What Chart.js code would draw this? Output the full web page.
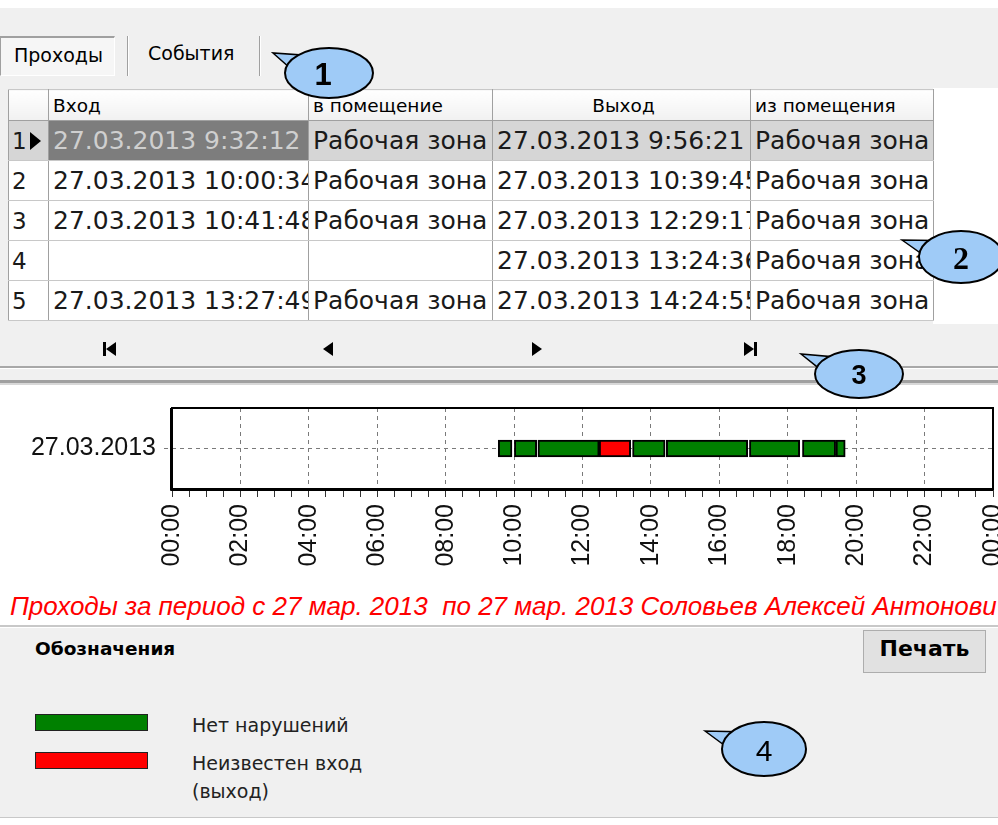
<!DOCTYPE html>
<html><head><meta charset="utf-8">
<script src="https://cdn.jsdelivr.net/npm/chart.js@4/dist/chart.umd.min.js"></script>
<style>
html,body{margin:0;padding:0;width:998px;height:825px;overflow:hidden;background:#fff;position:relative;font-family:"DejaVu Sans",sans-serif;color:#000;}
.a{position:absolute;}
.gray{background:#f0f0f0;}
table.grid{position:absolute;left:8px;top:89px;width:925px;border-collapse:collapse;table-layout:fixed;background:#fff;}
table.grid th{box-sizing:border-box;height:31px;padding:0 0 0 4px;font-weight:normal;font-size:18.5px;text-align:left;background:linear-gradient(#ffffff,#f1f1f1);border-right:1px solid #a0a0a0;border-bottom:1px solid #a0a0a0;border-top:1px solid #c8c8c8;white-space:nowrap;overflow:hidden;}
table.grid td{box-sizing:border-box;height:40px;padding:0 0 0 4px;font-size:25px;white-space:nowrap;overflow:hidden;border-right:1px solid #a0a0a0;border-bottom:1px solid #c8c8c8;color:#1a1a1a;}
table.grid td.num{padding-left:3px;font-size:23px;}
table.grid tr.sel td{background:#d6d6d6;}
table.grid tr.sel td.cur{background:#7d7d7d;color:#cfcfcf;}
table.grid th:first-child,table.grid td:first-child{border-left:1px solid #a0a0a0;}
.tri{position:absolute;width:0;height:0;}
</style></head><body>

<!-- toolbar / upper panel -->
<div class="a gray" style="left:0;top:8px;width:998px;height:378px;"></div>
<div class="a" style="left:933px;top:88px;width:65px;height:236px;background:#fff;"></div>

<div class="a" style="left:0;top:36px;width:115px;height:40px;background:#f6f6f6;border-top:2px solid #a0a0a0;border-left:1px solid #a0a0a0;border-right:1px solid #fff;border-bottom:1px solid #fff;box-sizing:border-box;"></div>
<div class="a" style="left:14px;top:44px;font-size:19px;">Проходы</div>
<div class="a" style="left:127px;top:36px;width:1px;height:40px;background:#a0a0a0;border-right:1px solid #fff;"></div>
<div class="a" style="left:148px;top:42px;font-size:19px;">События</div>
<div class="a" style="left:259px;top:36px;width:1px;height:40px;background:#a0a0a0;border-right:1px solid #fff;"></div>

<table class="grid" id="grid">
<colgroup><col style="width:40px"><col style="width:260px"><col style="width:184px"><col style="width:258px"><col style="width:183px"></colgroup>
<thead><tr><th></th><th id="h0"></th><th id="h1"></th><th id="h2" style="text-align:center"></th><th id="h3"></th></tr></thead>
<tbody id="gbody"></tbody>
</table>

<!-- navigator -->
<svg class="a" style="left:0;top:330px" width="998" height="40">
  <rect x="103" y="12" width="3" height="14" fill="#000"/>
  <polygon points="106,19 116,12 116,26" fill="#000"/>
  <polygon points="323,19 333,12 333,26" fill="#000"/>
  <polygon points="542,19 532,12 532,26" fill="#000"/>
  <polygon points="744,12 754,19 744,26" fill="#000"/>
  <rect x="754" y="12" width="3" height="14" fill="#000"/>
</svg>
<div class="a" style="left:0;top:366px;width:998px;height:2px;background:#a8a8a8;"></div>
<div class="a" style="left:0;top:368px;width:998px;height:1px;background:#fff;"></div>
<div class="a" style="left:0;top:380px;width:998px;height:3px;background:#a0a0a0;"></div>
<div class="a" style="left:0;top:383px;width:998px;height:2px;background:#d8d8d8;"></div>

<!-- chart -->
<div class="a" style="left:0;top:385px;width:998px;height:205px;background:#fff;">
  <canvas id="c" width="998" height="205"></canvas>
</div>

<div class="a" id="title" style="left:10px;top:590px;width:988px;height:32px;overflow:hidden;white-space:pre;font-family:'Liberation Sans',Arial,sans-serif;font-style:italic;font-size:26px;color:#ff0000;line-height:32px;"></div>

<!-- legend panel -->
<div class="a gray" style="left:0;top:625px;width:998px;height:193px;border-top:2px solid #c8c8c8;box-sizing:border-box;border-bottom:1px solid #c8c8c8;"></div>
<div class="a" style="left:0;top:627px;width:998px;height:1px;background:#fff;"></div>
<div class="a" style="left:35px;top:638px;font-size:18.5px;font-weight:bold;">Обозначения</div>
<div class="a" style="left:863px;top:630px;width:123px;height:43px;background:#e1e1e1;border:1px solid #adadad;box-sizing:border-box;"></div>
<div class="a" style="left:863px;top:636px;width:123px;text-align:center;font-size:22px;font-weight:bold;">Печать</div>
<div id="legend"></div>

<!-- callouts -->
<svg class="a" id="callouts" style="left:0;top:0;pointer-events:none" width="998" height="825"></svg>

<script>
// ---------- data ----------
const dayLabels = ['27.03.2013'];
const segStart  = [9.537, 10.009, 10.696, 12.488, 13.463, 14.45, 16.88, 18.43, 19.41];
const segEnd    = [9.939, 10.662, 12.488, 13.41, 14.415, 16.83, 18.35, 19.40, 19.68];
const segStatus = ['ok','ok','ok','unknown','ok','ok','ok','ok','ok'];
const tickHours  = [0,2,4,6,8,10,12,14,16,18,20,22,24];
const tickLabels = ['00:00','02:00','04:00','06:00','08:00','10:00','12:00','14:00','16:00','18:00','20:00','22:00','00:00'];

const columns   = ['Вход','в помещение','Выход','из помещения'];
const rowNums   = ['1','2','3','4','5'];
const entryTime = ['27.03.2013 9:32:12','27.03.2013 10:00:34','27.03.2013 10:41:48','','27.03.2013 13:27:49'];
const entryRoom = ['Рабочая зона','Рабочая зона','Рабочая зона','','Рабочая зона'];
const exitTime  = ['27.03.2013 9:56:21','27.03.2013 10:39:45','27.03.2013 12:29:17','27.03.2013 13:24:36','27.03.2013 14:24:55'];
const exitRoom  = ['Рабочая зона','Рабочая зона','Рабочая зона','Рабочая зона','Рабочая зона'];

const legendNames = ['Нет нарушений','Неизвестен вход\n(выход)'];
const legendKeys  = ['ok','unknown'];
const statusColor = {ok:'#008000', unknown:'#ff0000'};
const titleText = 'Проходы за период с 27 мар. 2013  по 27 мар. 2013 Соловьев Алексей Антонович';

// ---------- table ----------
columns.forEach((c,i)=>{document.getElementById('h'+i).textContent=c;});
const tb = document.getElementById('gbody');
rowNums.forEach((n,i)=>{
  const tr=document.createElement('tr');
  if(i===0) tr.className='sel';
  const cells=[n,entryTime[i],entryRoom[i],exitTime[i],exitRoom[i]];
  cells.forEach((t,j)=>{
    const td=document.createElement('td');
    td.textContent=t;
    if(j===0){td.className='num'; if(i===0){td.style.position='relative'; const tri=document.createElement('div'); tri.className='tri'; tri.style.cssText='position:absolute;left:21px;top:11px;border-top:9px solid transparent;border-bottom:9px solid transparent;border-left:11px solid #000;'; td.appendChild(tri);} }
    if(i===0 && j===1) td.className='cur';
    tr.appendChild(td);
  });
  tb.appendChild(tr);
});

// ---------- title ----------
document.getElementById('title').textContent = titleText;

// ---------- legend ----------
const lg=document.getElementById('legend');
legendKeys.forEach((k,i)=>{
  const top = i===0 ? 714 : 752;
  const sw=document.createElement('div');
  sw.className='a';
  sw.style.cssText=`left:35px;top:${top}px;width:113px;height:17px;background:${statusColor[k]};border:1px solid #222;box-sizing:border-box;`;
  lg.appendChild(sw);
  const tx=document.createElement('div');
  tx.className='a';
  tx.style.cssText=`left:192px;top:${top-3}px;font-size:19px;line-height:28px;white-space:pre;color:#222;`;
  tx.textContent=legendNames[i];
  lg.appendChild(tx);
});

// ---------- callouts ----------
const callouts=[
  {n:'1',cx:329,cy:73,rx:44,ry:25,tx:273,ty:53,font:"bold 31px 'Liberation Sans'",ox:-6},
  {n:'2',cx:961,cy:257,rx:42,ry:26,tx:902,ty:240,font:"bold 32px 'Liberation Serif'",ox:0},
  {n:'3',cx:859,cy:374,rx:44,ry:24,tx:801,ty:354,font:"bold 27px 'Liberation Sans Narrow','Liberation Sans'",ox:0},
  {n:'4',cx:764,cy:749,rx:42,ry:27,tx:705,ty:731,font:"30px 'Liberation Sans Narrow','Liberation Sans'",ox:0}
];
const svgNS='http://www.w3.org/2000/svg';
const sv=document.getElementById('callouts');
callouts.forEach(c=>{
  const ang=Math.atan2((c.ty-c.cy)/c.ry,(c.tx-c.cx)/c.rx);
  const b1=[c.cx+c.rx*Math.cos(ang-0.35)*0.9, c.cy+c.ry*Math.sin(ang-0.35)*0.9];
  const b2=[c.cx+c.rx*Math.cos(ang+0.35)*0.9, c.cy+c.ry*Math.sin(ang+0.35)*0.9];
  const p=document.createElementNS(svgNS,'polygon');
  p.setAttribute('points',`${c.tx},${c.ty} ${b1[0]},${b1[1]} ${b2[0]},${b2[1]}`);
  p.setAttribute('fill','#9fcbf7');p.setAttribute('stroke','#000');p.setAttribute('stroke-width','1.5');
  sv.appendChild(p);
  const e=document.createElementNS(svgNS,'ellipse');
  e.setAttribute('cx',c.cx);e.setAttribute('cy',c.cy);e.setAttribute('rx',c.rx);e.setAttribute('ry',c.ry);
  e.setAttribute('fill','#9fcbf7');e.setAttribute('stroke','#000');e.setAttribute('stroke-width','2');
  sv.appendChild(e);
  const t=document.createElementNS(svgNS,'text');
  t.setAttribute('x',c.cx+c.ox);t.setAttribute('y',c.cy+1);
  t.setAttribute('text-anchor','middle');t.setAttribute('dominant-baseline','central');
  t.setAttribute('style','font:'+c.font+';fill:#000');
  t.textContent=c.n;
  sv.appendChild(t);
});

// ---------- chart ----------
const framePlugin={id:'frame',afterDatasetsDraw(chart){
  const {ctx,chartArea:a}=chart;
  ctx.save();ctx.strokeStyle='#000';ctx.lineWidth=2;
  ctx.strokeRect(a.left,a.top,a.right-a.left,a.bottom-a.top);
  ctx.lineWidth=1;ctx.beginPath();
  ctx.moveTo(a.left-1.5,a.top);ctx.lineTo(a.left-1.5,a.bottom+1.5);ctx.lineTo(a.right,a.bottom+1.5);ctx.stroke();
  ctx.restore();
}};
const labelFont={family:"'Liberation Sans', Arial, sans-serif",size:25};
new Chart(document.getElementById('c'),{
  type:'bar',
  data:{
    labels:dayLabels,
    datasets:[{
      data:segStart.map((s,i)=>({x:[s,segEnd[i]],y:dayLabels[0]})),
      backgroundColor:segStatus.map(s=>statusColor[s]),
      borderColor:'#000',borderWidth:2,borderSkipped:false,barThickness:17
    }]
  },
  options:{
    indexAxis:'y',responsive:false,animation:false,
    layout:{padding:{top:11,right:5,left:0,bottom:0}},
    plugins:{legend:{display:false},tooltip:{enabled:false}},
    scales:{
      x:{type:'linear',min:0,max:24,
        ticks:{stepSize:0.5,autoSkip:false,minRotation:90,maxRotation:90,color:'#111',font:labelFont,padding:7,
          callback:(v)=>{const k=tickHours.indexOf(v);return k>=0?tickLabels[k]:'';}},
        grid:{color:(c)=>{const v=c.tick?c.tick.value:-1;return (tickHours.includes(v)&&v>0&&v<24)?'#7a7a7a':'transparent';},
          tickColor:'#333',tickLength:8,lineWidth:1},
        border:{display:false,dash:[4,4]},
        afterFit:(s)=>{s.height=101;s.paddingLeft=0;s.paddingRight=0;}
      },
      y:{type:'category',offset:true,
        ticks:{color:'#111',font:labelFont,padding:8},
        grid:{offset:false,color:'#7a7a7a',tickColor:'#7a7a7a',tickLength:8,tickBorderDash:[4,4],lineWidth:1},
        border:{display:false,dash:[4,4]},
        afterFit:(s)=>{s.width=172;}
      }
    }
  },
  plugins:[framePlugin]
});
</script>
</body></html>
